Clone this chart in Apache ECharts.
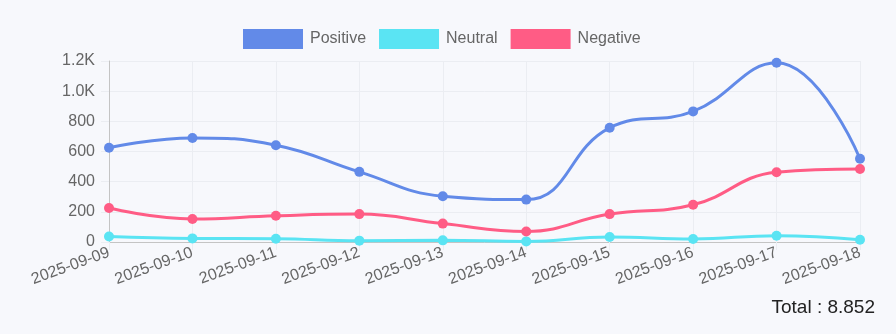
<!DOCTYPE html>
<html>
<head>
<meta charset="utf-8">
<script src="https://cdn.jsdelivr.net/npm/echarts@6/dist/echarts.min.js"></script>
<style>
html,body{margin:0;padding:0;background:#f7f8fc;}
#c{width:896px;height:334px;}
</style>
</head>
<body>
<div id="c"></div>
<script>
const categories = ['2025-09-09','2025-09-10','2025-09-11','2025-09-12','2025-09-13','2025-09-14','2025-09-15','2025-09-16','2025-09-17','2025-09-18'];
const positive = [625, 690, 642, 465, 303, 281, 757, 866, 1188, 552];
const neutral  = [37, 24, 22, 9, 11, 4, 33, 20, 42, 15];
const negative = [225, 153, 174, 185, 122, 70, 185, 247, 462, 484];
const totalLabel = 'Total : 8.852';

const font = "'Liberation Sans', Arial, Helvetica, sans-serif";
const chart = echarts.init(document.getElementById('c'));
function mk(name, data, color) {
  return {
    name: name, type: 'line', data: data, smooth: 0.45,
    symbol: 'circle', symbolSize: 10,
    lineStyle: {width: 3, color: color},
    itemStyle: {color: color},
    animation: false
  };
}
chart.setOption({
  backgroundColor: '#f7f8fc',
  animation: false,
  textStyle: {fontFamily: font},
  legend: {
    top: 24, left: 238, icon: 'rect', itemWidth: 60, itemHeight: 20, itemGap: 13,
    textStyle: {fontSize: 16, color: '#666', fontFamily: font, padding: [0, 0, 0, 2]},
    data: ['Positive', 'Neutral', 'Negative']
  },
  grid: {left: 109, right: 36, top: 61, bottom: 92},
  xAxis: {
    type: 'category', data: categories, boundaryGap: false,
    axisLine: {lineStyle: {color: '#c4c4c4', width: 1}},
    axisTick: {show: true, length: 8, alignWithLabel: true, lineStyle: {color: '#ebedf2'}},
    splitLine: {show: true, lineStyle: {color: '#ebedf2'}},
    axisLabel: {rotate: 20, fontSize: 16, color: '#666', margin: 10, interval: 0, fontFamily: font}
  },
  yAxis: {
    type: 'value', min: 0, max: 1200, interval: 200,
    axisLine: {show: true, lineStyle: {color: '#c4c4c4', width: 1}},
    axisTick: {show: true, length: 8, lineStyle: {color: '#ebedf2'}},
    splitLine: {show: true, lineStyle: {color: '#ebedf2'}},
    axisLabel: {
      fontSize: 16, color: '#666', margin: 14, fontFamily: font,
      formatter: v => v >= 1000 ? (v / 1000).toFixed(1) + 'K' : String(v)
    }
  },
  graphic: [{
    type: 'text', right: 21, top: 298,
    style: {text: totalLabel, font: '19px ' + font, fill: '#222'}
  }],
  series: [
    mk('Positive', positive, '#628ae8'),
    mk('Neutral', neutral, '#5ae4f3'),
    mk('Negative', negative, '#ff5c85')
  ]
});
</script>
</body>
</html>
